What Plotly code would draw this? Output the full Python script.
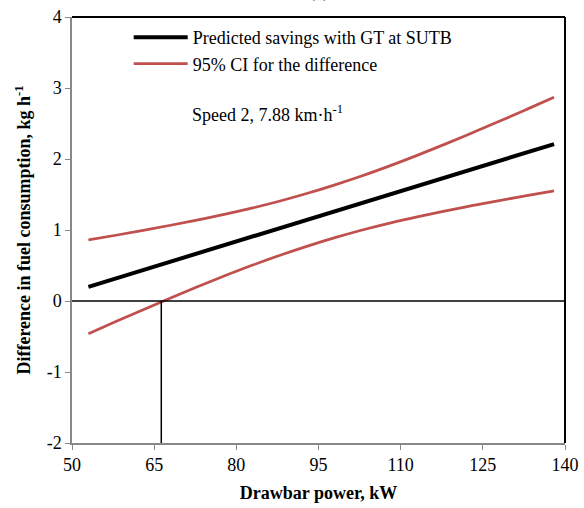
import plotly.graph_objects as go

power_kw = [53, 58, 63, 68, 73, 78, 83, 88, 93, 98, 103, 108, 113, 118, 123, 128, 133, 138]
predicted = [0.200, 0.318, 0.436, 0.555, 0.673, 0.791, 0.909, 1.027, 1.145, 1.264,
             1.382, 1.500, 1.618, 1.736, 1.855, 1.973, 2.091, 2.210]
ci_upper = [0.860, 0.926, 0.994, 1.067, 1.143, 1.224, 1.312, 1.409, 1.517, 1.636,
            1.764, 1.903, 2.051, 2.206, 2.367, 2.531, 2.699, 2.870]
ci_lower = [-0.460, -0.290, -0.122, 0.043, 0.203, 0.358, 0.506, 0.645, 0.773, 0.892,
            1.000, 1.097, 1.185, 1.266, 1.343, 1.415, 1.483, 1.550]
breakeven_kw = 66.3
x_ticks = [50, 65, 80, 95, 110, 125, 140]
y_ticks = [-2, -1, 0, 1, 2, 3, 4]
y_ticktext = ["-2", "-1", "0", "1", "2", "3", "4"]

FONT = "Liberation Serif"
RED = "#C0504D"

fig = go.Figure()
fig.add_trace(go.Scatter(x=power_kw, y=predicted, mode="lines",
                         name="Predicted savings with GT at SUTB",
                         line=dict(color="black", width=4)))
fig.add_trace(go.Scatter(x=power_kw, y=ci_upper, mode="lines",
                         name="95% CI for the difference",
                         line=dict(color=RED, width=2.75, shape="spline")))
fig.add_trace(go.Scatter(x=power_kw, y=ci_lower, mode="lines",
                         name="95% CI lower", showlegend=False,
                         line=dict(color=RED, width=2.75, shape="spline")))
# zero line and break-even vertical line
fig.add_trace(go.Scatter(x=[50, 140], y=[0, 0], mode="lines", showlegend=False,
                         line=dict(color="black", width=1.5), hoverinfo="skip"))
fig.add_trace(go.Scatter(x=[breakeven_kw, breakeven_kw], y=[0, -2], mode="lines",
                         showlegend=False, line=dict(color="black", width=1.5),
                         hoverinfo="skip"))

fig.update_layout(
    width=584, height=508,
    margin=dict(l=72, r=19, t=17, b=65),
    plot_bgcolor="white", paper_bgcolor="white",
    font=dict(family=FONT, size=18, color="black"),
    showlegend=True,
    legend=dict(x=0.115, y=0.995, xanchor="left", yanchor="top",
                bgcolor="rgba(0,0,0,0)", font=dict(family=FONT, size=18),
                tracegroupgap=0, itemwidth=54),
    xaxis=dict(range=[50, 140], tickvals=x_ticks, ticks="outside", ticklen=5,
               tickcolor="#888888", showline=True, linecolor="#888888", linewidth=1.5,
               showgrid=False, zeroline=False, mirror=False, automargin=False,
               title=dict(text="<b>Drawbar power, kW</b>", font=dict(size=18), standoff=12)),
    yaxis=dict(range=[-2, 4], tickvals=y_ticks, ticktext=y_ticktext, ticks="outside",
               ticklen=5, tickcolor="#888888", showline=True, linecolor="#888888",
               linewidth=1.5, showgrid=False, zeroline=False, automargin=False,
               title=dict(text="<b>Difference in fuel consumption, kg h<sup>-1</sup></b>",
                          font=dict(size=18), standoff=11)),
)
# top and right frame
fig.add_shape(type="line", xref="paper", yref="paper", x0=0, x1=1, y0=1, y1=1,
              line=dict(color="black", width=2))
fig.add_shape(type="line", xref="paper", yref="paper", x0=1, x1=1, y0=0, y1=1,
              line=dict(color="black", width=2))

fig.add_annotation(text="Speed 2, 7.88 km·h<sup>-1</sup>", xref="paper", yref="paper",
                   x=0.24, y=0.774, xanchor="left", yanchor="middle", showarrow=False,
                   font=dict(family=FONT, size=18))
fig.add_annotation(text="(c)", xref="paper", yref="paper", x=0.5, y=1, yanchor="bottom",
                   yshift=13, showarrow=False, font=dict(family=FONT, size=18))

fig.write_html("out.html", config={"displayModeBar": False},
               post_script="document.body.style.margin='0';")
